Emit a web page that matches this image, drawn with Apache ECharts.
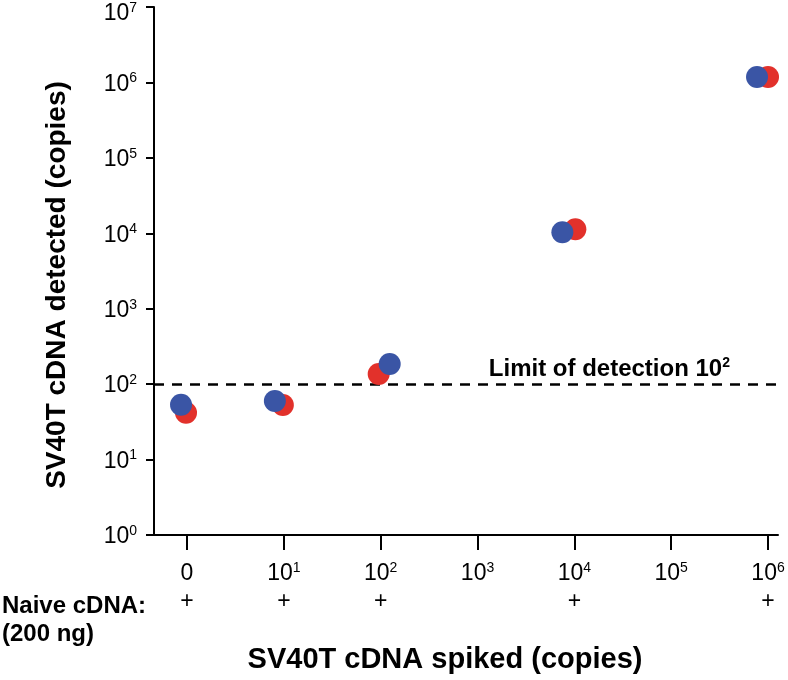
<!DOCTYPE html>
<html><head><meta charset="utf-8">
<script src="https://cdn.jsdelivr.net/npm/echarts@6/dist/echarts.min.js"></script>
<style>html,body{margin:0;padding:0;background:#fff}#c{width:788px;height:680px}</style>
</head><body><div id="c"></div>
<script>
// ---- data ----
const xExponents = [null, 1, 2, 3, 4, 5, 6];          // x tick labels: 0, 10^1 ... 10^6
const naiveCDNA = ['+', '+', '+', '', '+', '', '+'];   // "Naive cDNA (200 ng)" row
const spikedIndex = [0, 1, 2, 4, 6];                   // category index of each measured point
const redDetected = [41.8, 52.9, 136, 11300, 1180000];
const blueDetected = [53.4, 59.8, 185, 10300, 1180000];
const yExponents = [0, 1, 2, 3, 4, 5, 6, 7];           // y tick labels 10^0 ... 10^7
const limitOfDetection = 100;

// ---- styling ----
const FONT = 'Liberation Sans';
const RED = '#E2312B', BLUE = '#3A55A5';
const redOffsetPx = [-1, -1, -2, 1, 0];
const blueOffsetPx = [-6, -9, 9, -12, -11];
const X_MIN = -0.341, X_MAX = 6.103;

const chart = echarts.init(document.getElementById('c'), null, {renderer: 'canvas'});

const xTickVals = xExponents.map((e, i) => i);
const yTickVals = yExponents.map(e => Math.pow(10, e));

const supRich = {
  b: {fontSize: 23, lineHeight: 26, fontFamily: FONT, fill: '#000'},
  s: {fontSize: 14, lineHeight: 14, verticalAlign: 'top', fontFamily: FONT, fill: '#000'}
};

function pts(vals, offs) {
  return spikedIndex.map((x, i) => ({value: [x, vals[i]], symbolOffset: [offs[i], 0]}));
}

const titleGraphics = [
  {type: 'text', x: 57, y: 285, rotation: Math.PI / 2,
   style: {text: 'SV40T cDNA detected (copies)', fontSize: 28, fontWeight: 'bold', fontFamily: FONT, fill: '#000', align: 'center', verticalAlign: 'middle'}},
  {type: 'text', x: 445, y: 660,
   style: {text: 'SV40T cDNA spiked (copies)', fontSize: 29, fontWeight: 'bold', fontFamily: FONT, fill: '#000', align: 'center', verticalAlign: 'middle'}},
  {type: 'text', x: 2, y: 606,
   style: {text: 'Naive cDNA:', fontSize: 24, fontWeight: 'bold', fontFamily: FONT, fill: '#000', align: 'left', verticalAlign: 'middle'}},
  {type: 'text', x: 2, y: 634,
   style: {text: '(200 ng)', fontSize: 24, fontWeight: 'bold', fontFamily: FONT, fill: '#000', align: 'left', verticalAlign: 'middle'}}
];

chart.setOption({
  animation: false,
  backgroundColor: '#fff',
  grid: {left: 154, right: 10, top: 7, bottom: 145, containLabel: false, outerBoundsMode: 'none'},
  xAxis: {
    type: 'value', min: X_MIN, max: X_MAX,
    axisLine: {show: true, onZero: false, lineStyle: {color: '#000', width: 2}},
    axisTick: {show: true, customValues: xTickVals, length: 15, lineStyle: {color: '#000', width: 2}},
    splitLine: {show: false},
    axisLabel: {show: false}
  },
  yAxis: {
    type: 'log', logBase: 10, min: 1, max: 1e7,
    axisLine: {show: true, onZero: false, lineStyle: {color: '#000', width: 2}},
    axisTick: {show: true, customValues: yTickVals, length: 8, lineStyle: {color: '#000', width: 2}},
    splitLine: {show: false},
    minorTick: {show: false},
    axisLabel: {show: false}
  },
  series: [
    {
      type: 'scatter', name: 'red', symbolSize: 22, z: 3,
      itemStyle: {color: RED, opacity: 1},
      data: pts(redDetected, redOffsetPx),
      markLine: {
        silent: true, symbol: 'none', z: 1, animation: false,
        data: [{yAxis: limitOfDetection}],
        lineStyle: {color: '#000', type: [10, 8], width: 2.5},
        label: {
          position: 'insideEndTop', distance: 2, padding: [0, 46, 0, 0],
          formatter: '{t|Limit of detection 10}{u|2}',
          rich: {
            t: {fontSize: 24, fontWeight: 'bold', lineHeight: 26, fontFamily: FONT, color: '#000'},
            u: {fontSize: 14, fontWeight: 'bold', lineHeight: 16, verticalAlign: 'top', fontFamily: FONT, color: '#000'}
          }
        }
      }
    },
    {
      type: 'scatter', name: 'blue', symbolSize: 22, z: 4,
      itemStyle: {color: BLUE, opacity: 1},
      data: pts(blueDetected, blueOffsetPx)
    }
  ],
  graphic: titleGraphics
});

// tick labels placed at the positions given by the chart's own axes
const g = titleGraphics.slice();
const xAxisPx = chart.convertToPixel({xAxisIndex: 0}, X_MIN);
const yAxisPx = chart.convertToPixel({yAxisIndex: 0}, 1);
yExponents.forEach(e => {
  const py = chart.convertToPixel({yAxisIndex: 0}, Math.pow(10, e));
  g.push({type: 'text', x: xAxisPx - 17, y: Math.max(py + 2, 14),
    style: {text: '{b|10}{s|' + e + '}', rich: supRich, align: 'right', verticalAlign: 'middle'}});
});
xExponents.forEach((e, i) => {
  const px = chart.convertToPixel({xAxisIndex: 0}, i);
  g.push({type: 'text', x: px, y: yAxisPx + 39,
    style: {text: e === null ? '{b|0}' : '{b|10}{s|' + e + '}', rich: supRich, align: 'center', verticalAlign: 'middle'}});
  if (naiveCDNA[i]) {
    g.push({type: 'text', x: px, y: yAxisPx + 67,
      style: {text: naiveCDNA[i], fontSize: 23, fontFamily: FONT, fill: '#000', align: 'center', verticalAlign: 'middle'}});
  }
});
chart.setOption({graphic: g});
</script>
</body></html>
